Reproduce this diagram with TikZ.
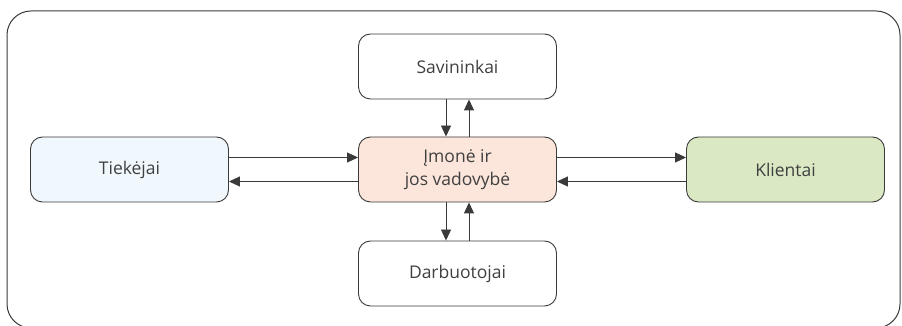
\documentclass[tikz,border=0pt]{standalone}
\usepackage{fontspec}
\setmainfont{Open Sans}
\usetikzlibrary{arrows.meta}
\definecolor{txt}{HTML}{404040}
\definecolor{edge}{HTML}{3A3A3A}
\definecolor{tiefill}{HTML}{F1F8FD}
\definecolor{cenfill}{HTML}{FCE5DA}
\definecolor{klifill}{HTML}{DAE9C4}
\tikzset{
  box/.style={draw=edge, line width=0.9pt, rounded corners=12pt, minimum width=198pt, minimum height=65pt,
    inner sep=0pt, align=center, text=txt, font=\fontsize{17.5}{23}\selectfont},
  link/.style={draw=edge, line width=0.9pt, -{Triangle[length=11pt,width=10pt]}},
}
\begin{document}
\begin{tikzpicture}[x=1pt,y=1pt]
\useasboundingbox (0,0) rectangle (902,326);
\draw[edge, line width=1pt, rounded corners=24pt] (7,-2) rectangle (900,315);
\node[box] (sav) at (457.5,259.5) {Savininkai};
\node[box, fill=tiefill] (tie) at (129.5,156.5) {Tiekėjai};
\node[box, fill=cenfill] (cen) at (457.5,156.5) {Įmonė ir\\jos vadovybė};
\node[box, fill=klifill] (kli) at (785.5,156.5) {Klientai};
\node[box] (dar) at (457.5,52.5) {Darbuotojai};
\draw[link] ([yshift=12pt]tie.east) -- ([yshift=12pt]cen.west);
\draw[link] ([yshift=-12pt]cen.west) -- ([yshift=-12pt]tie.east);
\draw[link] ([yshift=12pt]cen.east) -- ([yshift=12pt]kli.west);
\draw[link] ([yshift=-12pt]kli.west) -- ([yshift=-12pt]cen.east);
\draw[link] ([xshift=-11.5pt]sav.south) -- ([xshift=-11.5pt]cen.north);
\draw[link] ([xshift=11.5pt]cen.north) -- ([xshift=11.5pt]sav.south);
\draw[link] ([xshift=-11.5pt]cen.south) -- ([xshift=-11.5pt]dar.north);
\draw[link] ([xshift=11.5pt]dar.north) -- ([xshift=11.5pt]cen.south);
\end{tikzpicture}
\end{document}
